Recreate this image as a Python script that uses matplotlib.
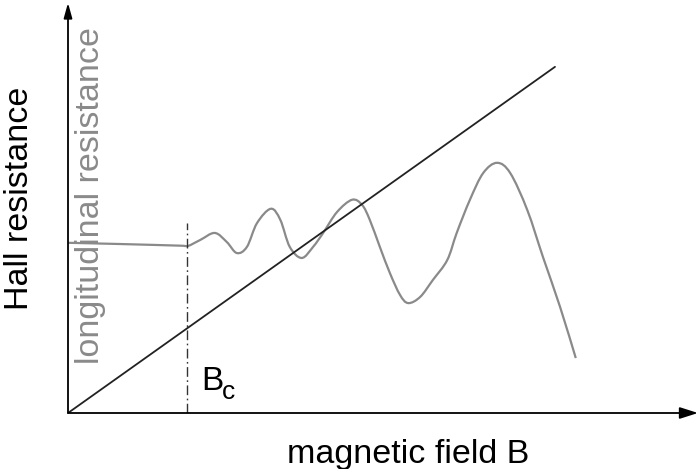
import matplotlib
matplotlib.use('Agg')
import matplotlib.pyplot as plt
from matplotlib.path import Path
from matplotlib.patches import PathPatch

plt.rcParams['font.family'] = ['Liberation Sans', 'DejaVu Sans']

# magnetic field (arbitrary units) and longitudinal resistance
field_B = [0.0, 0.83, 1.78, 1.90, 2.10, 2.33, 2.52, 2.68, 2.84, 3.00, 3.22, 3.37,
           3.52, 3.71, 3.89, 4.05, 4.27, 4.51, 4.67, 4.79, 4.95, 5.11, 5.27, 5.40,
           5.59, 5.79, 6.02, 6.17, 6.38, 6.59, 6.81, 7.02, 7.29, 7.54, 7.81, 8.06]
r_long = [4.15, 4.12, 4.08, 4.07, 4.22, 4.39, 4.17, 3.90, 4.05, 4.63, 4.98, 4.71,
          4.05, 3.78, 4.05, 4.39, 4.90, 5.20, 5.07, 4.71, 4.05, 3.41, 2.88, 2.68,
          2.83, 3.24, 3.73, 4.39, 5.20, 5.85, 6.10, 5.85, 4.95, 3.80, 2.59, 1.34]

# Hall resistance grows linearly with B
hall_B = [0.0, 7.73]
hall_R = [0.0, 8.44]

# critical field
B_c = 1.89
bc_top = 4.63


def smooth_path(xs, ys):
    # draw through the points with bezier segments (catmull-rom style handles)
    pts = list(zip(xs, ys))
    verts = [pts[0]]
    codes = [Path.MOVETO]
    for i in range(len(pts) - 1):
        p0 = pts[i - 1] if i > 0 else pts[i]
        p1 = pts[i]
        p2 = pts[i + 1]
        p3 = pts[i + 2] if i + 2 < len(pts) else pts[i + 1]
        c1 = (p1[0] + (p2[0] - p0[0]) / 6, p1[1] + (p2[1] - p0[1]) / 6)
        c2 = (p2[0] - (p3[0] - p1[0]) / 6, p2[1] - (p3[1] - p1[1]) / 6)
        verts += [c1, c2, p2]
        codes += [Path.CURVE4] * 3
    return Path(verts, codes)


fig = plt.figure(figsize=(6.99, 4.69), dpi=100)
ax = fig.add_axes([68 / 699, 56 / 469, 631 / 699, 413 / 469])
ax.set_xlim(0, 10.016)
ax.set_ylim(0, 10.07)
ax.axis('off')

# axes with arrows
ax.annotate('', xy=(10, 0), xytext=(0, 0),
            arrowprops=dict(arrowstyle='-|>,head_length=1.1,head_width=0.35',
                            color='black', lw=1.3, shrinkA=0, shrinkB=0),
            annotation_clip=False)
ax.annotate('', xy=(0, 10), xytext=(0, 0),
            arrowprops=dict(arrowstyle='-|>,head_length=0.9,head_width=0.25',
                            color='black', lw=1.3, shrinkA=0, shrinkB=0),
            annotation_clip=False)

ax.plot(hall_B, hall_R, color='#222222', lw=1.3, solid_capstyle='round')
ax.add_patch(PathPatch(smooth_path(field_B, r_long), facecolor='none',
                       edgecolor='#8a8a8a', lw=1.6))
ax.plot([B_c, B_c], [0, bc_top], color='#333333', lw=1.0, dashes=(7, 2.5, 1.2, 2.5))

ax.text(B_c + 0.22, 0.55, 'B', fontsize=24, color='black',
        ha='left', va='baseline')
ax.text(B_c + 0.55, 0.33, 'c', fontsize=19, color='black',
        ha='left', va='baseline')

fig.text(408 / 699, 1 - 454 / 469, 'magnetic field B', fontsize=24.5,
         ha='center', va='center')
fig.text(20 / 699, 1 - 198 / 469, 'Hall resistance', fontsize=24.5,
         rotation=90, ha='center', va='center')
fig.text(91 / 699, 1 - 196 / 469, 'longitudinal resistance', fontsize=24.5,
         rotation=90, ha='center', va='center', color='#8a8a8a')

fig.savefig('out.png', dpi=100)
